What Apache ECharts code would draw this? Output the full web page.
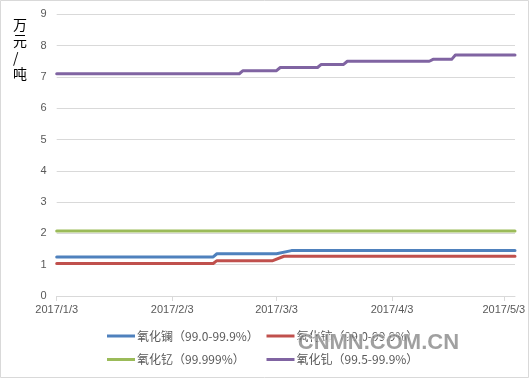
<!DOCTYPE html>
<html><head><meta charset="utf-8">
<script src="https://cdn.jsdelivr.net/npm/echarts@6/dist/echarts.min.js"></script>
<style>html,body{margin:0;padding:0;background:#fff}#c{width:530px;height:379px}</style>
</head><body><div id="c"></div>
<script>
// ---- data ----
var xTickLabels = ['2017/1/3','2017/2/3','2017/3/3','2017/4/3','2017/5/3'];
var xStart = '2017/1/3';
var xEnd = '2017/5/6';
var yTicks = [0,1,2,3,4,5,6,7,8,9];
var seriesNames = ['氧化镧（99.0-99.9%）','氧化铈（99.0-99.9%）','氧化钇（99.999%）','氧化钆（99.5-99.9%）'];
var laPoints = [['2017/1/3',1.25],['2017/2/14',1.25],['2017/2/15',1.35],['2017/3/3',1.35],['2017/3/7',1.45],['2017/5/6',1.45]];
var cePoints = [['2017/1/3',1.04],['2017/2/14',1.04],['2017/2/15',1.13],['2017/3/2',1.13],['2017/3/5',1.27],['2017/5/6',1.27]];
var yPoints  = [['2017/1/3',2.08],['2017/5/6',2.08]];
var gdPoints = [['2017/1/3',7.1],['2017/2/21',7.1],['2017/2/22',7.2],['2017/3/3',7.2],['2017/3/4',7.3],['2017/3/14',7.3],['2017/3/15',7.4],['2017/3/21',7.4],['2017/3/22',7.5],['2017/4/13',7.5],['2017/4/14',7.56],['2017/4/19',7.56],['2017/4/20',7.7],['2017/5/6',7.7]];
var unitLabel = '万\n元\n/\n吨';
var watermark = 'CNMN.COM.CN';

// ---- helpers ----
function ts(s){var p=s.split('/').map(Number);return Date.UTC(p[0],p[1]-1,p[2]);}
function fmt(v){var d=new Date(v);return d.getUTCFullYear()+'/'+(d.getUTCMonth()+1)+'/'+d.getUTCDate();}
function conv(arr){return arr.map(function(p){return [ts(p[0]),p[1]];});}
var colors = ['#4F81BD','#C0504D','#9BBB59','#8064A2'];
var allPoints = [laPoints,cePoints,yPoints,gdPoints];
var tickVals = xTickLabels.map(ts);

var series = allPoints.map(function(pts,i){
  return {name:seriesNames[i],type:'line',data:conv(pts),symbol:'none',
    lineStyle:{width:3,color:colors[i],cap:'round',join:'round'},itemStyle:{color:colors[i]},
    emphasis:{disabled:true},animation:false};
});

var legendPos = [[107,330],[266.5,330],[107,353.5],[266.5,353.5]];
var legends = seriesNames.map(function(n,i){
  return {data:[{name:n,icon:'rect'}],left:legendPos[i][0],top:legendPos[i][1],itemWidth:28,itemHeight:3,padding:0,
    itemStyle:{color:colors[i],borderWidth:0},
    textStyle:{fontSize:12,color:'#595959',fontFamily:'"Noto Sans CJK SC", sans-serif',padding:[0,0,0,-3]},selectedMode:false};
});

var chart = echarts.init(document.getElementById('c'),null,{renderer:'canvas'});
chart.setOption({
  animation:false,
  backgroundColor:'#fff',
  grid:{left:56.7,right:15,top:14.3,bottom:83,containLabel:false},
  xAxis:{type:'value',min:ts(xStart),max:ts(xEnd),
    axisLine:{show:true,lineStyle:{color:'#d9d9d9',width:1}},
    axisTick:{show:true,customValues:tickVals,length:5,lineStyle:{color:'#d9d9d9'}},
    axisLabel:{customValues:tickVals,formatter:function(v){return fmt(v);},color:'#595959',fontSize:11,fontFamily:'"Liberation Sans", Arial, sans-serif',margin:8,hideOverlap:false,showMaxLabel:true,showMinLabel:true},
    splitLine:{show:false}},
  yAxis:{type:'value',min:yTicks[0],max:yTicks[yTicks.length-1],interval:1,
    axisLine:{show:false},axisTick:{show:false},
    axisLabel:{color:'#595959',fontSize:11,fontFamily:'"Liberation Sans", Arial, sans-serif',margin:10},
    splitLine:{lineStyle:{color:'#d9d9d9',width:1}}},
  legend:legends,
  series:series,
  graphic:[
    {type:'rect',shape:{x:0.5,y:0.5,width:528,height:377},style:{fill:null,stroke:'#d9d9d9',lineWidth:1},silent:true},
    {type:'text',left:13,top:16,style:{text:unitLabel,fontSize:14,lineHeight:16.5,fill:'#000',align:'center',fontFamily:'"Noto Sans CJK SC", sans-serif'}},
    {type:'text',left:297,top:331,z:100,style:{text:watermark,fontSize:22,fontWeight:'bold',fill:'rgba(120,120,120,0.7)',stroke:'rgba(255,255,255,0.85)',lineWidth:1.5,fontFamily:'"Liberation Sans", Arial, sans-serif'}}
  ]
});
</script></body></html>
